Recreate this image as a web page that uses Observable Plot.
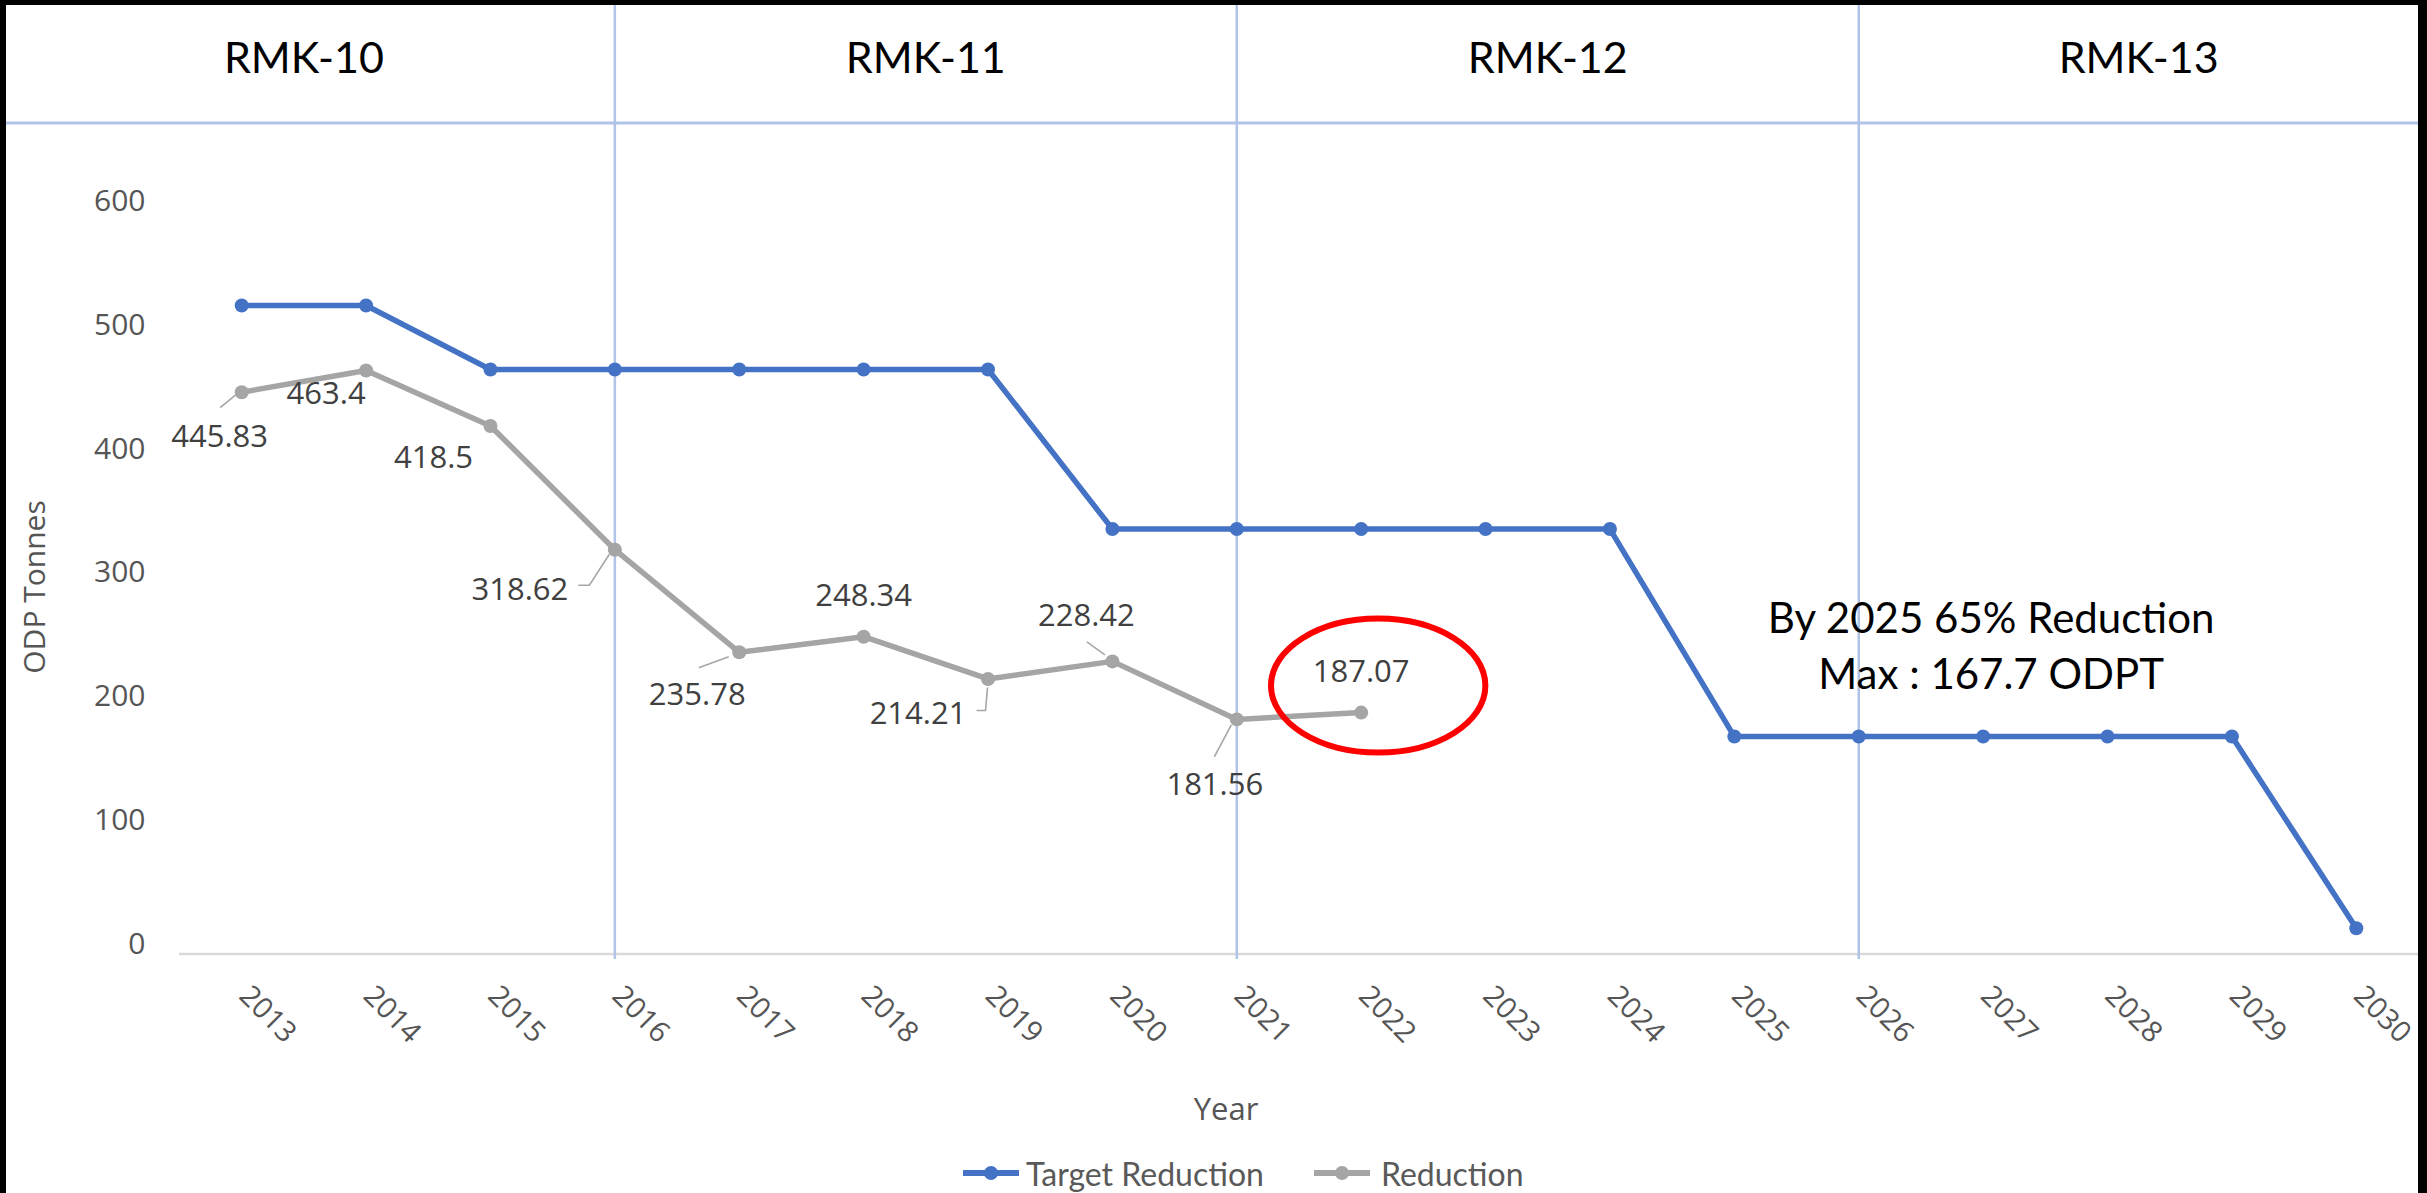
<!DOCTYPE html>
<html>
<head>
<meta charset="utf-8">
<script src="https://cdn.jsdelivr.net/npm/d3@7"></script>
<script src="https://cdn.jsdelivr.net/npm/@observablehq/plot@0.6"></script>
<style>
  html, body { margin: 0; padding: 0; background: #000; }
  #frame { position: relative; width: 2427px; height: 1193px; background: #000; overflow: hidden; }
  #inner { position: absolute; left: 6px; top: 5px; width: 2412px; height: 1188px; background: #fff; }
  #chart svg { display: block; }
  #legend { position: absolute; left: 957px; top: 1135px; height: 66px; display: flex; align-items: center;
            font-family: Lato, 'Open Sans', sans-serif; font-size: 32px; color: #595959; white-space: nowrap; }
  #legend .item { display: flex; align-items: center; }
  #legend svg { display: block; }
</style>
</head>
<body>
<div id="frame"><div id="inner"><div id="chart"></div><div id="legend"></div></div></div>
<script>
// ---------------- data ----------------
const years = [2013, 2014, 2015, 2016, 2017, 2018, 2019, 2020, 2021, 2022, 2023, 2024, 2025, 2026, 2027, 2028, 2029, 2030];
const targetReduction = [515.8, 515.8, 464.2, 464.2, 464.2, 464.2, 464.2, 335.3, 335.3, 335.3, 335.3, 335.3, 167.7, 167.7, 167.7, 167.7, 167.7, 12.9];
const reductionYears = [2013, 2014, 2015, 2016, 2017, 2018, 2019, 2020, 2021, 2022];
const reduction = [445.83, 463.4, 418.5, 318.62, 235.78, 248.34, 214.21, 228.42, 181.56, 187.07];
const yTicks = [0, 100, 200, 300, 400, 500, 600];
const periods = ["RMK-10", "RMK-11", "RMK-12", "RMK-13"];
const periodStart = [2011, 2016, 2021, 2026];
const seriesNames = ["Target Reduction", "Reduction"];
const annotationText = "By 2025 65% Reduction\nMax : 167.7 ODPT";
const annotationValue = 167.7;
const highlightYear = 2022;
const yTitle = "ODP Tonnes";
const xTitle = "Year";

// ---------------- styles / layout ----------------
const BLUE = "#4472c4", GRAY = "#a5a5a5", GRID = "#b0c4e8", AXIS = "#d9d9d9";
const TEXT = "#555555", LABEL = "#404040";
const xDomain = [2012.5, 2030.5];
// per-label offsets (pixels) of the data labels from their points
const labelOffset = [[-22, 45], [-40, 24], [-57, 32], [-95, 40], [-42, 43], [0, -41], [-70, 35], [-26, -45], [-22, 66], [0, -40]];
// leader lines (pixel offsets from the point), keyed by index in reduction
const leaders = [
  {i: 0, pts: [[-21, 16], [-4, 2]]},
  {i: 3, pts: [[-36, 36], [-25, 36], [-5, 5]]},
  {i: 4, pts: [[-40, 16], [-10, 5]]},
  {i: 6, pts: [[-11, 32], [-2, 32], [0, 9]]},
  {i: 7, pts: [[-25, -19], [-7, -6]]},
  {i: 8, pts: [[-22, 38], [-5, 6]]}
];

// ---------------- tables ----------------
const targetData = years.map((year, i) => ({year, value: targetReduction[i]}));
const reductionData = reductionYears.map((year, i) => ({year, value: reduction[i]}));
const periodData = periods.map((label, i) => ({
  label,
  start: periodStart[i],
  mid: (periodStart[i] + (i < periods.length - 1 ? periodStart[i + 1] : xDomain[1])) / 2
}));
const plateauYears = targetData.filter(d => d.value === annotationValue).map(d => d.year);
const annotationData = [{year: d3.mean(plateauYears), value: annotationValue, text: annotationText}];
const highlightData = reductionData.filter(d => d.year === highlightYear);

// ellipse symbol for highlight
const ellipse = {
  draw(context, size) {
    const r = Math.sqrt(size / Math.PI);
    const rx = r * 1.6, ry = r, k = 0.5522847498;
    context.moveTo(rx, 0);
    context.bezierCurveTo(rx, ry * k, rx * k, ry, 0, ry);
    context.bezierCurveTo(-rx * k, ry, -rx, ry * k, -rx, 0);
    context.bezierCurveTo(-rx, -ry * k, -rx * k, -ry, 0, -ry);
    context.bezierCurveTo(rx * k, -ry, rx, -ry * k, rx, 0);
    context.closePath();
  }
};

// header separator line + bottom axis line
function chrome(index, scales, values, dims) {
  const g = d3.create("svg:g");
  g.append("line").attr("x1", 0).attr("x2", dims.width).attr("y1", 118).attr("y2", 118)
    .attr("stroke", GRID).attr("stroke-width", 3);
  const yb = dims.height - dims.marginBottom;
  g.append("line").attr("x1", dims.marginLeft).attr("x2", dims.width - dims.marginRight)
    .attr("y1", yb).attr("y2", yb).attr("stroke", AXIS).attr("stroke-width", 2.5);
  return g.node();
}

// leader lines for data labels
function leaderMark(index, scales) {
  const g = d3.create("svg:g").attr("fill", "none").attr("stroke", "#a6a6a6").attr("stroke-width", 1.6);
  for (const {i, pts} of leaders) {
    const px = scales.x(reductionYears[i]), py = scales.y(reduction[i]);
    g.append("path").attr("d", "M" + pts.map(([a, b]) => `${px + a},${py + b}`).join("L"));
  }
  return g.node();
}

const chart = Plot.plot({
  width: 2412,
  height: 1135,
  marginLeft: 173,
  marginRight: 0,
  marginTop: 0,
  marginBottom: 186,
  x: {domain: xDomain, axis: null},
  y: {domain: [0, 600], range: [938.7, 195.8], axis: null},
  style: {background: "#fff", fontFamily: "'Open Sans', sans-serif", overflow: "visible"},
  marks: [
    chrome,
    Plot.ruleX(periodData.slice(1), {x: "start", stroke: GRID, strokeWidth: 2.5, insetBottom: -5}),
    Plot.text(periodData, {x: "mid", text: "label", frameAnchor: "top", lineAnchor: "middle", dy: 54, fontSize: 43,
      fontFamily: "Lato, 'Open Sans', sans-serif", fill: "#000"}),
    // y tick labels
    Plot.text(yTicks, {y: d => d, text: d => String(d), frameAnchor: "left", textAnchor: "end",
      lineAnchor: "middle", dx: -34, fontSize: 30, fill: TEXT}),
    // x tick labels
    Plot.text(years, {x: d => d, text: d => String(d), frameAnchor: "bottom", rotate: 45,
      textAnchor: "start", lineAnchor: "bottom", dx: -4, dy: 43, fontSize: 29, fill: TEXT}),
    // axis titles
    Plot.text([yTitle], {text: d => d, frameAnchor: "left", textAnchor: "middle", lineAnchor: "middle",
      rotate: -90, dx: -144, dy: 107, fontSize: 30, fill: TEXT}),
    Plot.text([xTitle], {text: d => d, frameAnchor: "bottom", textAnchor: "middle", lineAnchor: "middle",
      dx: -73, dy: 156, fontSize: 31, fill: TEXT}),
    // series
    Plot.line(targetData, {x: "year", y: "value", stroke: BLUE, strokeWidth: 5.5}),
    Plot.dot(targetData, {x: "year", y: "value", r: 7, fill: BLUE}),
    Plot.line(reductionData, {x: "year", y: "value", stroke: GRAY, strokeWidth: 5.5}),
    Plot.dot(reductionData, {x: "year", y: "value", r: 7, fill: GRAY}),
    leaderMark,
    ...reductionData.map((d, i) => Plot.text([d], {
      x: "year", y: "value", text: dd => String(dd.value),
      dx: labelOffset[i][0], dy: labelOffset[i][1], fontSize: 31, fill: LABEL
    })),
    // highlight ellipse
    Plot.dot(highlightData, {x: "year", y: "value", r: 67, symbol: ellipse, stroke: "#ff0000",
      strokeWidth: 6, fill: "none", dx: 17, dy: -27}),
    // annotation
    Plot.text(annotationData, {x: "year", y: "value", text: "text", dx: 8, dy: -93, fontSize: 42,
      lineAnchor: "middle", lineHeight: 1.333, fill: "#000", fontFamily: "Lato, 'Open Sans', sans-serif"})
  ]
});
document.getElementById("chart").appendChild(chart);

// legend
const legend = document.getElementById("legend");
const colors = [BLUE, GRAY];
const gaps = [50, 0];
seriesNames.forEach((name, i) => {
  const item = document.createElement("div");
  item.className = "item";
  item.style.marginRight = gaps[i] + "px";
  item.innerHTML = `<svg width="56" height="16"><line x1="1" x2="55" y1="8" y2="8" stroke="${colors[i]}" stroke-width="6" stroke-linecap="round"/><circle cx="28" cy="8" r="7" fill="${colors[i]}"/></svg>`;
  const label = document.createElement("span");
  label.textContent = name;
  label.style.marginLeft = (i === 0 ? 7 : 11) + "px";
  item.appendChild(label);
  legend.appendChild(item);
});
</script>
</body>
</html>
